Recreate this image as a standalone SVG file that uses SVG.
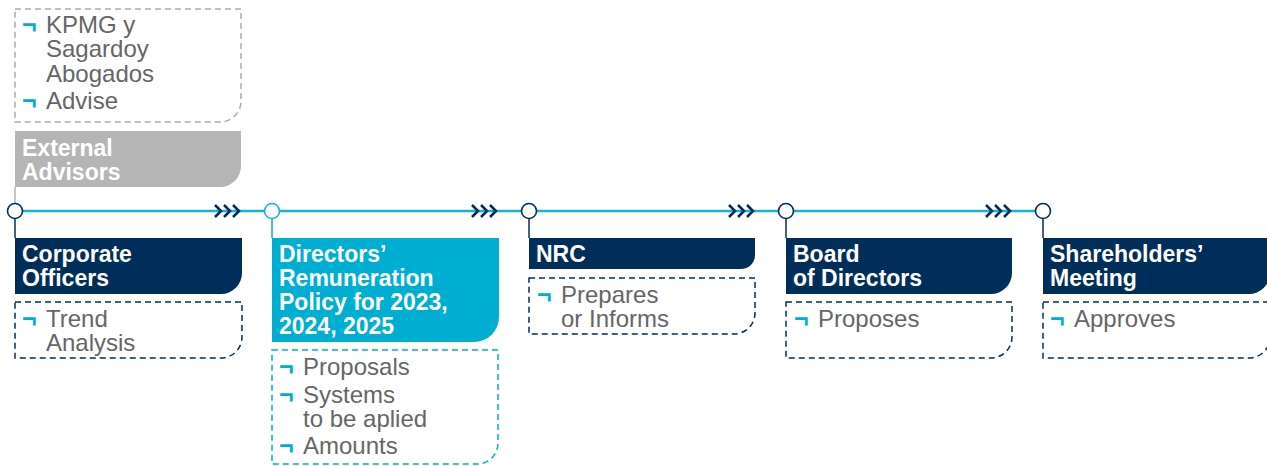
<svg xmlns="http://www.w3.org/2000/svg" width="1267" height="466" viewBox="0 0 1267 466">
  <style>
    .hd { font-family: "Liberation Sans", Arial, sans-serif; font-weight: bold; font-size: 23px; fill: #ffffff; }
    .tx { font-family: "Liberation Sans", Arial, sans-serif; font-size: 24px; fill: #666666; }
    .bl { font-family: "Liberation Sans", Arial, sans-serif; font-weight: bold; font-size: 25px; fill: #00aed1; }
    .navy { fill: #002e5b; }
    .cyan { fill: #00aed1; }
    .grey { fill: #b4b5b4; }
    .dn { fill: none; stroke: #002e5b; stroke-width: 1.5; stroke-dasharray: 6 4; }
    .dc { fill: none; stroke: #00aed1; stroke-width: 1.5; stroke-dasharray: 6 4; }
    .dg { fill: none; stroke: #aaaaaa; stroke-width: 1.5; stroke-dasharray: 6 4; }
    .chev { fill: none; stroke: #002e5b; stroke-width: 2.6; }
    .dot { fill: #ffffff; stroke-width: 1.6; }
  </style>
  <defs>
    <g id="chevrons">
      <polyline points="0,-6 6,0 0,6"/>
      <polyline points="9,-6 15,0 9,6"/>
      <polyline points="18,-6 24,0 18,6"/>
    </g>
  </defs>

  <!-- timeline and connectors -->
  <g id="connectors">
    <line x1="15" y1="211" x2="1043" y2="211" stroke="#17b2dc" stroke-width="2.5"/>
    <line x1="15" y1="187" x2="15" y2="204" stroke="#b4b5b4" stroke-width="1.5"/>
    <line x1="15" y1="218" x2="15" y2="238" stroke="#002e5b" stroke-width="1.5"/>
    <line x1="272" y1="218" x2="272" y2="238" stroke="#00aed1" stroke-width="1.5"/>
    <line x1="529" y1="218" x2="529" y2="238" stroke="#002e5b" stroke-width="1.5"/>
    <line x1="786" y1="218" x2="786" y2="238" stroke="#002e5b" stroke-width="1.5"/>
    <line x1="1043" y1="218" x2="1043" y2="238" stroke="#002e5b" stroke-width="1.5"/>
    <use href="#chevrons" class="chev" x="215" y="211"/>
    <use href="#chevrons" class="chev" x="472" y="211"/>
    <use href="#chevrons" class="chev" x="729" y="211"/>
    <use href="#chevrons" class="chev" x="986" y="211"/>
    <circle class="dot" cx="15" cy="211" r="7.5" stroke="#002e5b"/>
    <circle class="dot" cx="272" cy="211" r="7.5" stroke="#17b2dc"/>
    <circle class="dot" cx="529" cy="211" r="7.5" stroke="#002e5b"/>
    <circle class="dot" cx="786" cy="211" r="7.5" stroke="#002e5b"/>
    <circle class="dot" cx="1043" cy="211" r="7.5" stroke="#002e5b"/>
  </g>

  <!-- External Advisors -->
  <g id="external-advisors">
    <path class="dg" d="M15,9 H241 V101 A21,21 0 0 1 220,122 H15 Z"/>
    <text class="bl" x="22" y="33">¬</text>
    <text class="tx" x="46" y="33">KPMG y</text>
    <text class="tx" x="46" y="57">Sagardoy</text>
    <text class="tx" x="46" y="82">Abogados</text>
    <text class="bl" x="22" y="109">¬</text>
    <text class="tx" x="46" y="109">Advise</text>
    <path class="grey" d="M15,131 H241 V166 A21,21 0 0 1 220,187 H15 Z"/>
    <text class="hd" x="22" y="156">External</text>
    <text class="hd" x="22" y="180">Advisors</text>
  </g>

  <!-- Corporate Officers -->
  <g id="corporate-officers">
    <path class="navy" d="M15,238 H242 V273 A21,21 0 0 1 221,294 H15 Z"/>
    <text class="hd" x="22" y="262">Corporate</text>
    <text class="hd" x="22" y="286">Officers</text>
    <path class="dn" d="M15,302 H242 V337 A21,21 0 0 1 221,358 H15 Z"/>
    <text class="bl" x="22" y="327">¬</text>
    <text class="tx" x="46" y="327">Trend</text>
    <text class="tx" x="46" y="351">Analysis</text>
  </g>

  <!-- Directors' Remuneration Policy -->
  <g id="remuneration-policy">
    <path class="cyan" d="M272,238 H499 V317 A25,25 0 0 1 474,342 H272 Z"/>
    <text class="hd" x="279" y="262">Directors’</text>
    <text class="hd" x="279" y="286">Remuneration</text>
    <text class="hd" x="279" y="310">Policy for 2023,</text>
    <text class="hd" x="279" y="334">2024, 2025</text>
    <path class="dc" d="M272,350 H498 V443 A21,21 0 0 1 477,464 H272 Z"/>
    <text class="bl" x="279" y="375">¬</text>
    <text class="tx" x="303" y="375">Proposals</text>
    <text class="bl" x="279" y="403">¬</text>
    <text class="tx" x="303" y="403">Systems</text>
    <text class="tx" x="303" y="427">to be aplied</text>
    <text class="bl" x="279" y="454">¬</text>
    <text class="tx" x="303" y="454">Amounts</text>
  </g>

  <!-- NRC -->
  <g id="nrc">
    <path class="navy" d="M529,238 H755 V255 A14,14 0 0 1 741,269 H529 Z"/>
    <text class="hd" x="536" y="262">NRC</text>
    <path class="dn" d="M529,278 H755 V313 A21,21 0 0 1 734,334 H529 Z"/>
    <text class="bl" x="537" y="303">¬</text>
    <text class="tx" x="561" y="303">Prepares</text>
    <text class="tx" x="561" y="327">or Informs</text>
  </g>

  <!-- Board of Directors -->
  <g id="board-of-directors">
    <path class="navy" d="M786,238 H1012 V273 A21,21 0 0 1 991,294 H786 Z"/>
    <text class="hd" x="793" y="262">Board</text>
    <text class="hd" x="793" y="286">of Directors</text>
    <path class="dn" d="M786,302 H1012 V337 A21,21 0 0 1 991,358 H786 Z"/>
    <text class="bl" x="794" y="327">¬</text>
    <text class="tx" x="818" y="327">Proposes</text>
  </g>

  <!-- Shareholders' Meeting -->
  <g id="shareholders-meeting">
    <path class="navy" d="M1043,238 H1270 V273 A21,21 0 0 1 1249,294 H1043 Z"/>
    <text class="hd" x="1050" y="262">Shareholders’</text>
    <text class="hd" x="1050" y="286">Meeting</text>
    <path class="dn" d="M1043,302 H1270 V337 A21,21 0 0 1 1249,358 H1043 Z"/>
    <text class="bl" x="1050" y="327">¬</text>
    <text class="tx" x="1074" y="327">Approves</text>
  </g>
</svg>
